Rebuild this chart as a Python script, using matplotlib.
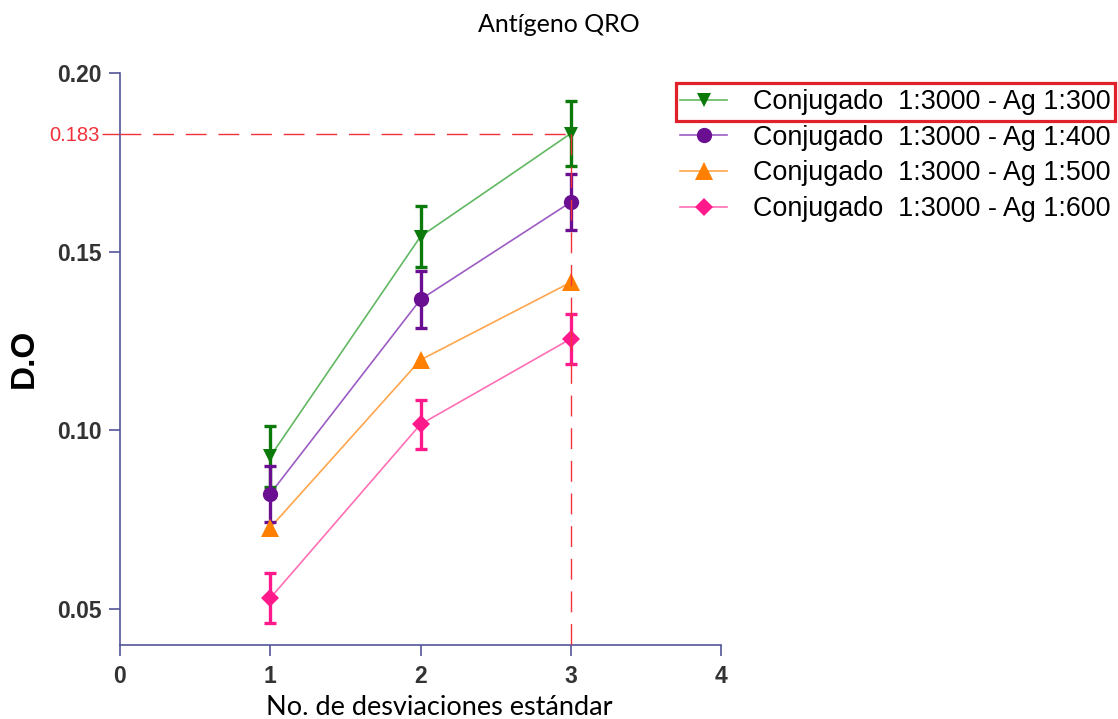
import matplotlib
matplotlib.use("Agg")
import matplotlib.pyplot as plt
from matplotlib.lines import Line2D
from matplotlib.patches import Rectangle

# --- data -------------------------------------------------------------
x_sd = [1, 2, 3]
labels = [
    "Conjugado  1:3000 - Ag 1:300",
    "Conjugado  1:3000 - Ag 1:400",
    "Conjugado  1:3000 - Ag 1:500",
    "Conjugado  1:3000 - Ag 1:600",
]
od_300 = [0.0927, 0.1542, 0.183]
err_300 = [0.0086, 0.0084, 0.0090]
od_400 = [0.0823, 0.1366, 0.1638]
err_400 = [0.0078, 0.0079, 0.0079]
od_500 = [0.0728, 0.1197, 0.1414]
err_500 = None
od_600 = [0.0531, 0.1017, 0.1256]
err_600 = [0.0070, 0.0068, 0.0070]

cutoff_x = 3
cutoff_od = 0.183

x_ticks = [0, 1, 2, 3, 4]
y_ticks = [0.05, 0.10, 0.15, 0.20]

# --- styling ----------------------------------------------------------
marker_colors = ["#0b7a0b", "#6b0f92", "#ff8000", "#ff1a8c"]
line_colors = ["#62b862", "#9b5cc4", "#ffa64d", "#ff6fb5"]
markers = ["v", "o", "^", "D"]
msizes = [10, 11, 13, 9.5]
axis_color = "#55559a"
tick_text = "#333333"
red = "#f0313a"

series = [od_300, od_400, od_500, od_600]
errors = [err_300, err_400, err_500, err_600]

fig = plt.figure(figsize=(11.18, 7.19), dpi=100)
ax = fig.add_axes([120 / 1118, 1 - 645 / 719, 601 / 1118, (645 - 72.7) / 719])

for vals, err, mc, lc, m, ms in zip(series, errors, marker_colors,
                                     line_colors, markers, msizes):
    ax.plot(x_sd, vals, color=lc, lw=1.2, zorder=2)
    if err is not None:
        ax.errorbar(x_sd, vals, yerr=err, fmt="none", ecolor=mc,
                    elinewidth=2.4, capsize=4.6, capthick=2.4, zorder=3)
    ax.plot(x_sd, vals, linestyle="none", marker=m, markersize=ms,
            color=mc, markeredgewidth=0, zorder=4)

# cut-off guide lines
dash = (0, (15, 8.5))
ax.plot([0, cutoff_x], [cutoff_od, cutoff_od], color=red, lw=1.0,
        linestyle=dash, zorder=5, clip_on=False)
ax.plot([cutoff_x, cutoff_x], [cutoff_od, 0.04], color=red, lw=1.0,
        linestyle=dash, zorder=5, clip_on=False)

ax.set_xlim(0, 4)
ax.set_ylim(0.04, 0.20)

# spines
for side in ["top", "right"]:
    ax.spines[side].set_visible(False)
for side in ["left", "bottom"]:
    ax.spines[side].set_color(axis_color)
    ax.spines[side].set_linewidth(1.2)

ax.set_xticks(x_ticks)
ax.set_xticklabels([str(v) for v in x_ticks])
ax.set_yticks(y_ticks)
ax.set_yticklabels([f"{v:.2f}" for v in y_ticks])
ax.tick_params(axis="both", which="major", direction="out", length=8,
               width=1.2, color=axis_color, labelcolor=tick_text)
ax.tick_params(axis="y", pad=5)
ax.tick_params(axis="x", pad=6.5)
for lab in ax.get_xticklabels() + ax.get_yticklabels():
    lab.set_fontfamily("Liberation Sans")
    lab.set_fontweight("bold")
    lab.set_fontsize(16.5)

# cut-off value as a red minor tick on the y axis
ax.set_yticks([cutoff_od], minor=True)
ax.set_yticklabels([f"{cutoff_od:.3f}"], minor=True)
ax.tick_params(axis="y", which="minor", direction="out", length=13,
               width=1.0, color=red, labelcolor=red, pad=1.5)
for lab in ax.get_yticklabels(minor=True):
    lab.set_fontfamily("Liberation Sans")
    lab.set_fontsize(14.5)

ax.set_ylabel("D.O", fontfamily="Liberation Sans", fontweight="bold",
              fontsize=24, color="black")
ax.yaxis.set_label_coords(-0.133, 0.5)
ax.set_xlabel("No. de desviaciones estándar", fontfamily="Lato",
              fontsize=19.5, color="black", va="baseline")
ax.xaxis.set_label_coords(0.532, -0.1215)

fig.text(0.5, 1 - 32 / 719, "Antígeno QRO", ha="center", va="baseline",
         fontfamily="Lato", fontsize=18, color="black")

# legend
handles = [Line2D([0], [0], color=lc, lw=1.2, marker=m, markersize=ms,
                  markerfacecolor=mc, markeredgewidth=0)
           for lc, mc, m, ms in zip(line_colors, marker_colors, markers, msizes)]
leg = fig.legend(handles, labels, loc="upper left",
                 bbox_to_anchor=(680 / 1118, 1 - 89 / 719),
                 frameon=False, borderaxespad=0, borderpad=0,
                 handlelength=1.75, handletextpad=0.95, labelspacing=0.36,
                 prop={"family": "Liberation Sans", "size": 19.4})

# highlight box around the first legend entry
fig.canvas.draw()
renderer = fig.canvas.get_renderer()
inv = fig.transFigure.inverted()
t_bb = leg.get_texts()[0].get_window_extent(renderer)
l_bb = leg.get_window_extent(renderer)
x0, y0 = inv.transform((l_bb.x0 - 4, t_bb.y0 - 6))
x1, y1 = inv.transform((t_bb.x1 + 5, t_bb.y1 + 6))
fig.add_artist(Rectangle((x0, y0), x1 - x0, y1 - y0, transform=fig.transFigure,
                         fill=False, edgecolor="#e0202a", lw=2.3))

fig.savefig("out.png", dpi=100)
